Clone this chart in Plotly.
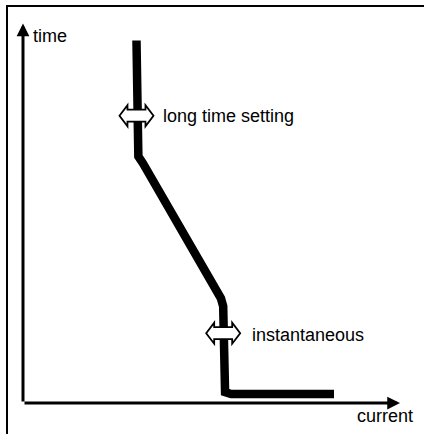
import plotly.graph_objects as go

# Conceptual trip curve (units: current 0..10, time 0..10)
curve_current = [3.01, 3.01, 3.06, 3.18, 5.15, 5.25, 5.31, 5.31, 5.36, 5.52, 8.25]
curve_time = [9.55, 6.74, 6.50, 6.32, 2.97, 2.76, 2.55, 0.45, 0.29, 0.24, 0.24]

# Adjustment markers (double arrows) and their labels
setting_labels = ["long time setting", "instantaneous"]
setting_current = [3.01, 5.31]
setting_time = [7.57, 1.84]
label_current = [3.66, 6.02]
label_time = [7.55, 1.79]

axis_labels = {"x": "current", "y": "time"}

FONT = dict(family="Liberation Sans, Arial, Helvetica, sans-serif", size=18, color="black")

fig = go.Figure()
fig.add_trace(go.Scatter(
    x=curve_current, y=curve_time, mode="lines",
    line=dict(color="black", width=8.5), hoverinfo="skip", showlegend=False,
))

# Double-headed hollow arrows (pixel-sized shapes anchored on data points)
arrow_path = ("M -17,0 L -9,10.5 L -9,6 L 9,6 L 9,10.5 L 17,0 "
              "L 9,-10.5 L 9,-6 L -9,-6 L -9,-10.5 Z")
for xc, yc in zip(setting_current, setting_time):
    fig.add_shape(type="path", xref="x", yref="y",
                  xsizemode="pixel", ysizemode="pixel",
                  xanchor=xc, yanchor=yc, path=arrow_path,
                  fillcolor="white", line=dict(color="black", width=1.8),
                  layer="above")

for txt, xl, yl in zip(setting_labels, label_current, label_time):
    fig.add_annotation(x=xl, y=yl, text=txt, showarrow=False,
                       xanchor="left", yanchor="middle", font=FONT)

# Axes drawn as arrows from the origin
fig.add_annotation(x=0, y=10, ax=0, ay=0, xref="x", yref="y", axref="x", ayref="y",
                   showarrow=True, arrowhead=2, arrowsize=0.85, arrowwidth=3,
                   arrowcolor="black", standoff=0, text="")
fig.add_annotation(x=10, y=0, ax=0, ay=0, xref="x", yref="y", axref="x", ayref="y",
                   showarrow=True, arrowhead=2, arrowsize=0.85, arrowwidth=3,
                   arrowcolor="black", standoff=0, text="")

fig.add_annotation(x=0.22, y=9.68, text=axis_labels["y"], showarrow=False,
                   xanchor="left", yanchor="middle", font=FONT)
fig.add_annotation(x=8.81, y=-0.34, text=axis_labels["x"], showarrow=False,
                   xanchor="left", yanchor="middle", font=FONT)

# Outer box of the figure: top and left edges shown as the plot's own axis lines
fig.update_xaxes(range=[-0.398, 10.637], side="top", showline=True, linewidth=2,
                 linecolor="black", showgrid=False, zeroline=False,
                 showticklabels=False, ticks="", fixedrange=True)
fig.update_yaxes(range=[-0.8158, 10.434], side="left", showline=True, linewidth=2,
                 linecolor="black", showgrid=False, zeroline=False,
                 showticklabels=False, ticks="", fixedrange=True)
fig.update_layout(
    width=424, height=434,
    margin=dict(l=8, r=0, t=7, b=0),
    paper_bgcolor="white", plot_bgcolor="white",
    hovermode=False, showlegend=False,
)

fig.write_html("out.html", config={"displayModeBar": False},
               post_script="document.body.style.margin='0px';")
